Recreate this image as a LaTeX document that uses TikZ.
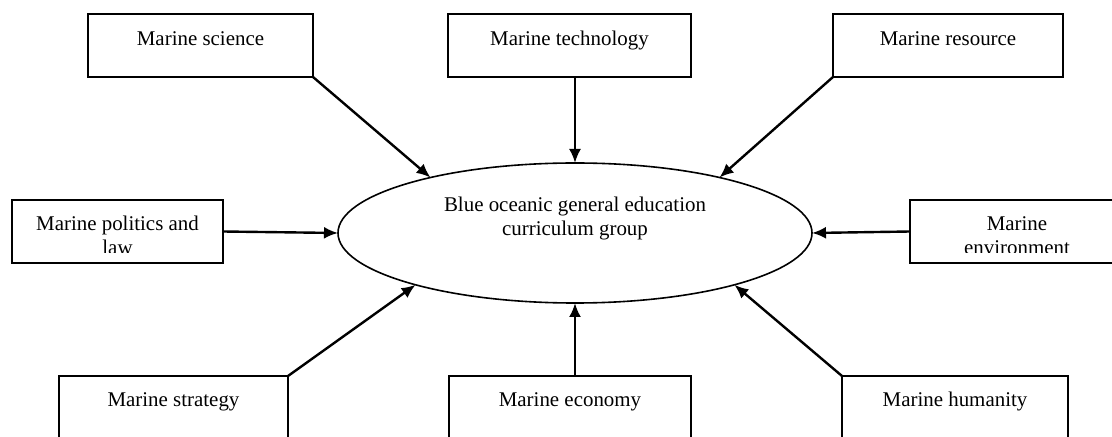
\documentclass[tikz,border=0pt]{standalone}
\usepackage{fontspec}
\setmainfont{Liberation Serif}
\usetikzlibrary{arrows.meta,shapes.geometric}
\begin{document}
\begin{tikzpicture}[x=1bp,y=-1bp,
  box/.style={draw,line width=2bp,inner sep=0pt,outer sep=0pt,minimum height=63bp},
  lbl/.style={anchor=base,inner sep=0pt,font=\fontsize{21}{25}\selectfont},
  arr/.style={line width=2.4bp,-{Latex[length=14bp,width=12bp]}},
  ]
\useasboundingbox (0,0) rectangle (1112,437);
% boxes
\node[box,minimum width=225bp] (sci)  at (200.5,45.5) {};
\node[box,minimum width=243bp] (tech) at (569.5,45.5) {};
\node[box,minimum width=230bp] (res)  at (948,45.5) {};
\node[box,minimum width=211bp] (pol)  at (117.5,231.5) {};
\node[box,minimum width=214bp] (env)  at (1017,231.5) {};
\node[box,minimum width=229bp] (str)  at (173.5,407.5) {};
\node[box,minimum width=242bp] (eco)  at (570,407.5) {};
\node[box,minimum width=226bp] (hum)  at (955,407.5) {};
% labels
\node[lbl] (scit)  at (200.5,46) {Marine science};
\node[lbl] (techt) at (569.5,46) {Marine technology};
\node[lbl] (rest)  at (948,46) {Marine resource};
\node[lbl] (strt)  at (173.5,407) {Marine strategy};
\node[lbl] (ecot)  at (570,407) {Marine economy};
\node[lbl] (humt)  at (955,407) {Marine humanity};
\begin{scope}
  \clip (12,200) rectangle (223,253);
  \node[lbl,align=center] (polt) at (117.5,255) {Marine politics and\\law};
\end{scope}
\begin{scope}
  \clip (910,200) rectangle (1112,253);
  \node[lbl,align=center] (envt) at (1017,255) {Marine\\environment};
\end{scope}
% central ellipse
\node[ellipse,draw,line width=1.6bp,minimum width=474bp,minimum height=140bp,inner sep=0pt,outer sep=0pt] (ell) at (575,233) {};
\node[lbl,align=center] (ellt) at (575,236) {Blue oceanic general education\\curriculum group};
% connectors
\draw[arr] (sci.south east) -- (ell.159);
\draw[arr] (tech.south -| ell.north) -- (ell.north);
\draw[arr] (res.south west) -- (ell.21);
\draw[arr] (pol.east) -- (ell.west);
\draw[arr] (env.west) -- (ell.east);
\draw[arr] (str.north east) -- (ell.198);
\draw[arr] (eco.north -| ell.south) -- (ell.south);
\draw[arr] (hum.north west) -- (ell.342);
\end{tikzpicture}
\end{document}
